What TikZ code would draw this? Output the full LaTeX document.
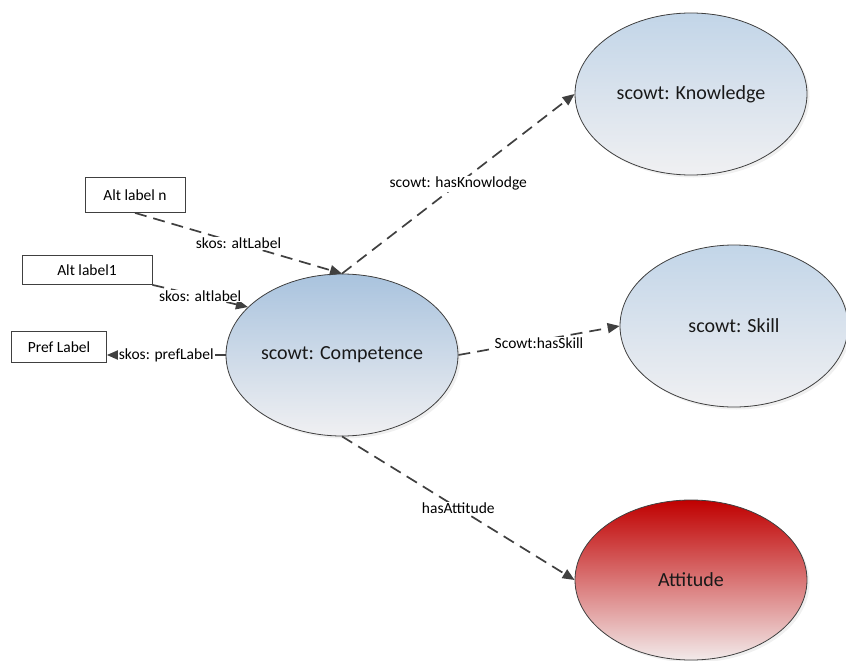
\documentclass[tikz,border=0pt]{standalone}
\usepackage{fontspec}
\setmainfont{Carlito}
\usetikzlibrary{shapes.geometric,arrows.meta,shadows}
\definecolor{edgegrey}{HTML}{404040}
\definecolor{blueTop}{HTML}{A9C3DE}
\definecolor{blueTopL}{HTML}{C2D5E8}
\definecolor{blueBot}{HTML}{F0F0F2}
\definecolor{redTop}{HTML}{C00000}
\definecolor{redBot}{HTML}{F2EAEA}
\tikzset{
  concept/.style={ellipse, draw=edgegrey, line width=0.8pt, minimum width=232pt, minimum height=162pt,
    font=\fontsize{20}{24}\selectfont, inner sep=0pt, text=black!90,
    drop shadow={shadow xshift=2.5pt, shadow yshift=-2.5pt, opacity=0.15, fill=black!40}},
  bluefill/.style={top color=blueTopL, bottom color=blueBot},
  bluefillD/.style={top color=blueTop, bottom color=blueBot},
  redfill/.style={top color=redTop, bottom color=redBot},
  labelbox/.style={draw=edgegrey, line width=0.8pt, fill=white, font=\fontsize{15.5}{18}\selectfont, inner sep=0pt},
  rel/.style={draw=edgegrey, line width=1.7pt, dash pattern=on 12pt off 7pt,
    -{Triangle[length=12pt,width=10pt,fill=edgegrey]}},
  rellabel/.style={fill=white, font=\fontsize{15.5}{18}\selectfont, inner sep=1pt, text=black}
}
\begin{document}
\begin{tikzpicture}[x=1pt,y=-1pt]
\useasboundingbox (0,0) rectangle (846,661);
\node[concept, bluefillD] (comp) at (342,355) {scowt: Competence};
\node[concept, bluefill] (know) at (691,94) {scowt: Knowledge};
\node[concept, bluefill, minimum width=228pt] (skill) at (734,326) {scowt: Skill};
\node[concept, redfill, minimum height=160pt] (att) at (691,580) {Attitude};
\node[labelbox, minimum width=100pt, minimum height=35pt] (altn) at (135,195) {Alt label n};
\node[labelbox, minimum width=130pt, minimum height=29pt] (alt1) at (87,270) {Alt label1};
\node[labelbox, minimum width=95pt, minimum height=31pt] (pref) at (59,347) {Pref Label};
\draw[rel] (altn.south) -- node[rellabel] {skos: altLabel} (comp.north);
\draw[rel] (alt1.south east) -- node[rellabel] {skos: altlabel} (comp.153);
\draw[rel] (comp.west) -- node[rellabel] {skos: prefLabel} (comp.west -| pref.east);
\draw[rel] (comp.north) -- node[rellabel] {scowt: hasKnowlodge} (know.west);
\draw[rel] (comp.east) -- node[rellabel, yshift=-3pt] {Scowt:hasSkill} (skill.west);
\draw[rel] (comp.south) -- node[rellabel] {hasAttitude} (att.west);
\end{tikzpicture}
\end{document}
